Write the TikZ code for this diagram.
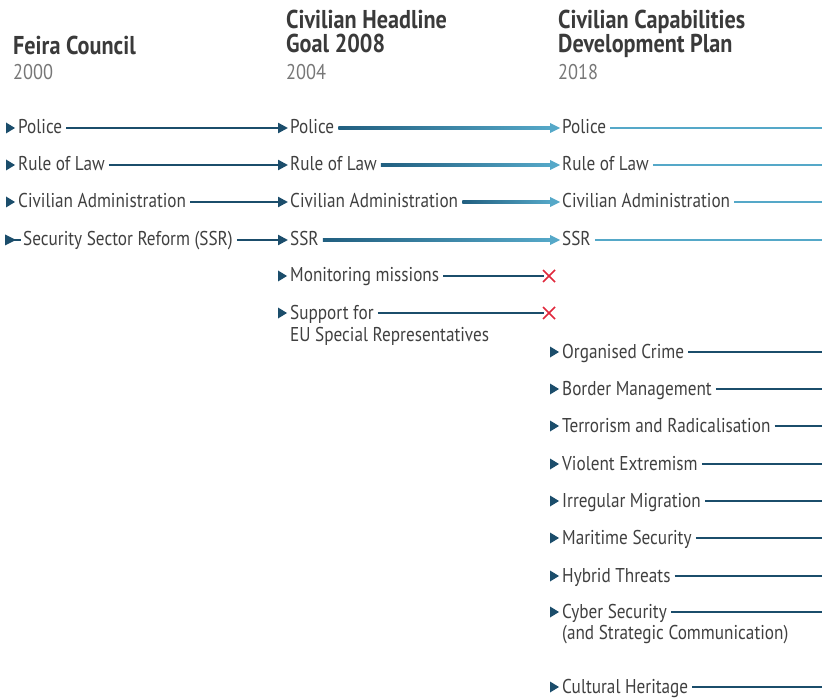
\documentclass[tikz,border=0pt]{standalone}
\usepackage{fontspec}
\setmainfont{PT Sans}[FakeStretch=0.86]
\usetikzlibrary{arrows.meta,calc}
\definecolor{dk}{HTML}{1B4D6B}
\definecolor{md}{HTML}{215F80}
\definecolor{lt}{HTML}{55A8C8}
\definecolor{txt}{HTML}{404040}
\definecolor{hd}{HTML}{3A3A3A}
\definecolor{yr}{HTML}{777777}
\definecolor{xr}{HTML}{E0283C}
\newcommand\tri[1]{\fill[dk] ($(#1.west)+(-12,-5.5)$) -- ++(9,5.5) -- ++(-9,5.5) -- cycle;}
\newcommand\glink[2]{\shade[left color=md,right color=lt] ($(#1.east)+(4,-1.1)$) rectangle ($(#2.west)+(-10,1.1)$);
  \fill[lt] ($(#2.west)+(-12,-5)$) -- ++(10,5) -- ++(-10,5) -- cycle;}
\begin{document}
\begin{tikzpicture}[x=1pt,y=-1pt,
  item/.style={anchor=base west,inner sep=0pt,text height=12pt,text depth=0pt,font=\fontsize{20}{22}\selectfont,text=txt},
  item2/.style={anchor=base west,inner sep=0pt,font=\fontsize{20}{22}\selectfont,text=txt},
  head/.style={anchor=base west,inner sep=0pt,font=\fontsize{25.8}{26}\selectfont\bfseries,text=hd},
  yearlbl/.style={anchor=base west,inner sep=0pt,font=\fontsize{21.3}{22}\selectfont,text=yr},
  link/.style={line width=2.3pt,dk,-{Triangle[length=10pt,width=10pt]},shorten <=4pt,shorten >=2pt},
  tail/.style={line width=2.3pt,shorten <=4pt},
  xmark/.style={line width=1.7pt,xr}]
\useasboundingbox (0,0) rectangle (826,700);
\coordinate (R) at (822,0);
\coordinate (X) at (549,0);
% headers
\node[head] (h1) at (13,55) {Feira Council};
\node[head] (h2a) at (286,29) {Civilian Headline};
\node[head] (h2b) at (286,53) {Goal 2008};
\node[head] (h3a) at (558,29) {Civilian Capabilities};
\node[head] (h3b) at (558,53) {Development Plan};
\node[yearlbl] (y1) at (13,80) {2000};
\node[yearlbl] (y2) at (286,80) {2004};
\node[yearlbl] (y3) at (558,80) {2018};
% column 1
\node[item] (a1) at (18,134) {Police};
\node[item] (a2) at (18,171) {Rule of Law};
\node[item] (a3) at (18,208) {Civilian Administration};
\node[item] (a4) at (23,246) {Security Sector Reform (SSR)};
% column 2
\node[item] (b1) at (290,134) {Police};
\node[item] (b2) at (290,171) {Rule of Law};
\node[item] (b3) at (290,208) {Civilian Administration};
\node[item] (b4) at (290,246) {SSR};
\node[item] (b5) at (290,282) {Monitoring missions};
\node[item] (b6) at (290,319) {Support for};
\node[item2] (b6x) at (290,341) {EU Special Representatives};
% column 3
\node[item] (c1) at (562,134) {Police};
\node[item] (c2) at (562,171) {Rule of Law};
\node[item] (c3) at (562,208) {Civilian Administration};
\node[item] (c4) at (562,246) {SSR};
\node[item] (d1) at (562,358) {Organised Crime};
\node[item] (d2) at (562,395) {Border Management};
\node[item] (d3) at (562,432) {Terrorism and Radicalisation};
\node[item] (d4) at (562,470) {Violent Extremism};
\node[item] (d5) at (562,507) {Irregular Migration};
\node[item] (d6) at (562,544) {Maritime Security};
\node[item] (d7) at (562,582) {Hybrid Threats};
\node[item] (d8) at (562,618) {Cyber Security};
\node[item2] (d8x) at (562,639) {(and Strategic Communication)};
\node[item] (d9) at (562,693) {Cultural Heritage};
% markers
\tri{a1}\tri{a2}\tri{a3}\tri{b5}\tri{b6}
\fill[dk] ($(a4.west)+(-18,-5.5)$) -- ++(11,5.5) -- ++(-11,5.5) -- cycle;
\draw[dk,line width=2pt] ($(a4.west)+(-9,0)$) -- ($(a4.west)+(-2,0)$);
\foreach \n in {d1,d2,d3,d4,d5,d6,d7,d8,d9}{\tri{\n}}
% col1 -> col2
\draw[link] (a1) -- (b1);
\draw[link] (a2) -- (b2);
\draw[link] (a3) -- (b3);
\draw[link] (a4) -- (b4);
% col2 -> col3
\glink{b1}{c1}
\glink{b2}{c2}
\glink{b3}{c3}
\glink{b4}{c4}
% discontinued
\coordinate (x5) at (b5.east -| X);
\coordinate (x6) at (b6.east -| X);
\draw[tail,dk,shorten >=5pt] (b5.east) -- (x5);
\draw[tail,dk,shorten >=5pt] (b6.east) -- (x6);
\foreach \c in {x5,x6}{
  \draw[xmark] ($(\c)+(-6,-6)$) -- ($(\c)+(6,6)$);
  \draw[xmark] ($(\c)+(-6,6)$) -- ($(\c)+(6,-6)$);}
% col3 continuing
\foreach \n in {c1,c2,c3,c4}{\draw[tail,lt] (\n.east) -- (\n.east -| R);}
\foreach \n in {d1,d2,d3,d4,d5,d6,d7,d8,d9}{\draw[tail,dk] (\n.east) -- (\n.east -| R);}
\end{tikzpicture}
\end{document}
